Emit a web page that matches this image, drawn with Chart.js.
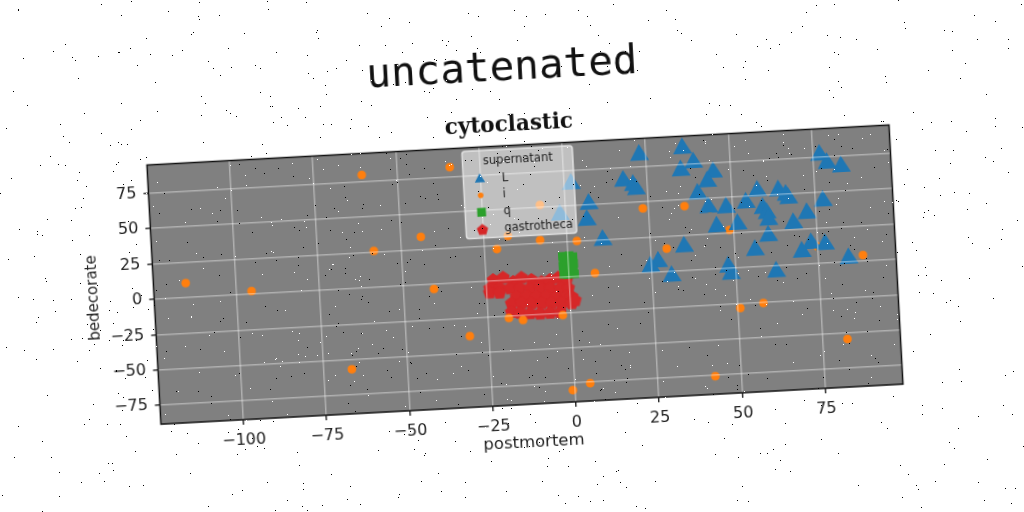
<!DOCTYPE html>
<html>
<head>
<meta charset="utf-8">
<style>
  html, body { margin: 0; padding: 0; background: #fff; overflow: hidden; }
  #stage { position: relative; width: 1024px; height: 512px; overflow: hidden; }
  #chart { position: absolute; left: 0; top: 0; transform: rotate(-3.09deg); transform-origin: 512px 256px; }
  #specks { position: absolute; left: 0; top: 0; pointer-events: none; }
</style>
</head>
<body>
<div id="stage">
  <canvas id="chart" width="1024" height="512"></canvas>
  <canvas id="specks" width="1024" height="512"></canvas>
</div>
<script src="https://cdn.jsdelivr.net/npm/chart.js@4/dist/chart.umd.min.js"></script>
<script>
const figTitle = 'uncatenated';
const axTitle = 'cytoclastic';
const xName = 'postmortem';
const yName = 'bedecorate';
const legendName = 'supernatant';
const seriesNames = ['L', 'i', 'q', 'gastrotheca'];

const xLimits = [-124.7, 98.3];
const yLimits = [-88.3, 95];
const tickStep = 25;

const lX = [23, 36, 39.1, 35.2, 44.9, 43, 17.8, 20.7, 21.5, 39.9, 57.8, 64.1, 66.3, 67, 77.3, 42.9, 48.2, 54.2, 59.2, 60.3, 60.7, 45.1, 51.4, 68.1, 72.3, 60.4, 56.2, 73.1, 70.2, 77.3, 84.1, 35, 27, 24.6, 30.8, 47.9, 48.6, 62.2, 77, 79.1, 83.3, 10.7, 7.1, 6.3, 2.1, -1.7];
const lY = [83.4, 86.4, 75.9, 70.8, 68.3, 61.9, 65.7, 62.4, 59.3, 53.7, 53.5, 52.9, 49.6, 47.2, 43.9, 43.8, 42.9, 45.6, 41.1, 37.4, 32.6, 29.9, 30.7, 29.3, 35.9, 21.3, 11.9, 14.5, 8.9, 13.3, 2.5, 17, 7.3, 4.1, -3.3, 1.1, -4.1, -4.2, 76.5, 70.4, 67.5, 24.8, 50.6, 39.4, 65.5, 44.1];

const iX = [-115, -95.4, -60.5, -34, -43.8, -58.1, -40.7, -30.7, -66.6, -21.2, -17.7, -8.1, 2.9, 7.8, -18.7, -14.5, -2.5, -0.7, 4.6, 42.2, 50.8, 57.8, 82.4, 88.4, 74.8, 48.8, 43.2, 35.7, 23.2, 29.7, -7.6];
const iY = [10.3, 2.1, 79.8, 82, 33.9, 25.7, -3.4, -38, -56.8, 22.5, 31.2, 27.1, 25, 1.7, -26.7, -28.7, -26.7, -80, -75.7, -75.5, -28.5, -25.7, -54.4, 4.3, 12.2, 27, 42.8, 45.6, 45.5, 16.3, 51.9];

const qX = [-1.7, -0.8, 0.4, 1.5, -1.5, -0.3, 1, 1.6, -1.7, -0.6, 0.5, -1.4, 0.2, 1.4, -1.6, -0.5, 0.9, 1.7];
const qY = [14.8, 13.6, 15, 14.2, 11.4, 10.5, 11.8, 9.2, 8, 7.2, 8.3, 4.6, 5, 5.6, 2, 1.8, 2.4, 2];

const gX = [-22.8, -19.8, -16.8, -14.3, -11.3, -8.3, -5.8, -3.3, -0.8, -23.9, -20.9, -17.9, -14.9, -11.9, -8.9, -5.9, -2.9, -0.4, -24.1, -21.1, -16.1, -13.1, -10.1, -7.1, -4.1, -1.1, 0.5, -17.7, -14.7, -11.7, -8.7, -5.7, -2.7, 0.3, 1.4, -17.8, -15.3, -12.3, -9.3, -6.3, -3.3];
const gY = [0.7, 1.9, -1.4, 1.2, -0.7, -2.6, -1.4, -0.1, -2, -5, -5.4, -5.8, -6.1, -6.5, -6.9, -7.3, -7.6, -8, -8.1, -8.5, -12, -12.3, -12.7, -13.1, -13.5, -13.9, -14.1, -16.5, -16.8, -17.2, -17.6, -17.9, -18.3, -18.7, -16.8, -22.6, -23.4, -24.2, -24.8, -24.6, -24.6];

const BLUE = '#1f77b4', ORANGE = '#ff7f0e', GREEN = '#2ca02c', RED = '#d62728';
const pairs = (xs, ys) => xs.map((x, i) => ({ x, y: ys[i] }));

// chart.js has no pentagon so the red marker is a small canvas
function pentagon(r, color) {
  const c = document.createElement('canvas');
  c.width = c.height = Math.ceil(r * 2 + 2);
  const g = c.getContext('2d');
  g.fillStyle = color;
  g.beginPath();
  for (let k = 0; k < 5; k++) {
    const a = -Math.PI / 2 + k * 2 * Math.PI / 5;
    g.lineTo(c.width / 2 + r * Math.cos(a), c.height / 2 + r * Math.sin(a));
  }
  g.closePath();
  g.fill();
  return c;
}

const plotBack = {
  id: 'plotBack',
  beforeDraw(chart) {
    const a = chart.chartArea, ctx = chart.ctx;
    ctx.save();
    ctx.fillStyle = '#808080';
    ctx.fillRect(a.left, a.top, a.right - a.left, a.bottom - a.top);
    ctx.restore();
  }
};

// the axes title sits a little right of the figure centre
const nudgeSubtitle = {
  id: 'nudgeSubtitle',
  afterLayout(chart) {
    const box = chart.boxes.find(b => b.options && b.options.text === axTitle);
    if (box) { box.left += 4; box.right += 4; }
  }
};

const frameAndLegend = {
  id: 'frameAndLegend',
  afterDraw(chart) {
    const a = chart.chartArea, ctx = chart.ctx;
    ctx.save();
    ctx.strokeStyle = '#111';
    ctx.lineWidth = 1.5;
    ctx.strokeRect(a.left, a.top, a.right - a.left, a.bottom - a.top);

    // legend box inside the axes
    ctx.beginPath();
    ctx.roundRect(467.5, 149, 110.5, 87.5, 3);
    ctx.fillStyle = 'rgba(255,255,255,0.5)';
    ctx.fill();
    ctx.strokeStyle = 'rgba(235,235,235,0.85)';
    ctx.lineWidth = 1.5;
    ctx.stroke();

    ctx.fillStyle = '#222';
    ctx.textBaseline = 'middle';
    ctx.font = '11.5px "DejaVu Sans"';
    ctx.textAlign = 'center';
    ctx.fillText(legendName, 523, 160.5);
    ctx.textAlign = 'left';
    const rows = [177.7, 193.7, 210.7, 228.4];
    const looks = [
      { pointStyle: 'triangle', radius: 6, color: BLUE },
      { pointStyle: 'circle', radius: 2.8, color: ORANGE },
      { pointStyle: 'rect', radius: 6.2, color: GREEN },
      { pointStyle: pentagon(6, RED), radius: 6, color: RED }
    ];
    seriesNames.forEach((name, i) => {
      ctx.fillStyle = looks[i].color;
      ctx.strokeStyle = looks[i].color;
      ctx.lineWidth = 0.5;
      Chart.helpers.drawPoint(ctx, { pointStyle: looks[i].pointStyle, radius: looks[i].radius, rotation: 0 }, 484, rows[i]);
      ctx.fillStyle = '#222';
      ctx.fillText(name, 506, rows[i]);
    });
    ctx.restore();
  }
};

const gridLook = { color: 'rgba(255,255,255,0.38)', lineWidth: 1.5, z: 1, tickColor: '#111', tickLength: 5, tickWidth: 1.3 };
const tickFont = { family: 'DejaVu Sans', size: 16 };
const minusLabel = v => String(v).replace('-', '\u2212');

new Chart(document.getElementById('chart'), {
  type: 'scatter',
  data: {
    datasets: [
      { label: seriesNames[0], data: pairs(lX, lY), pointStyle: 'triangle', pointRadius: 11, backgroundColor: BLUE, borderColor: BLUE, borderWidth: 0 },
      { label: seriesNames[1], data: pairs(iX, iY), pointStyle: 'circle', pointRadius: 4, backgroundColor: ORANGE, borderColor: 'rgba(255,127,14,0.4)', borderWidth: 1.5 },
      { label: seriesNames[2], data: pairs(qX, qY), pointStyle: 'rect', pointRadius: 6, backgroundColor: GREEN, borderColor: GREEN, borderWidth: 0 },
      { label: seriesNames[3], data: pairs(gX, gY), pointStyle: pentagon(7, RED), pointRadius: 7, backgroundColor: RED, borderColor: RED, borderWidth: 0 }
    ]
  },
  options: {
    responsive: false,
    animation: false,
    devicePixelRatio: 1,
    layout: { padding: { top: 45, bottom: 58, left: 0, right: 0 } },
    plugins: {
      legend: { display: false },
      tooltip: { enabled: false },
      title: { display: true, text: figTitle, color: '#111', font: { family: 'DejaVu Sans Mono', size: 41, weight: 'normal' }, padding: { top: 0, bottom: 17.9 } },
      subtitle: { display: true, text: axTitle, color: '#111', font: { family: 'DejaVu Serif', size: 21.5, weight: 'bold' }, padding: { top: 0, bottom: 7.6 } }
    },
    scales: {
      x: {
        type: 'linear', min: xLimits[0], max: xLimits[1],
        afterFit: s => { s.height = 49; },
        grid: gridLook,
        border: { display: false },
        title: { display: true, text: xName, color: '#222', font: { family: 'DejaVu Sans', size: 16.5 }, padding: 0 },
        ticks: { stepSize: tickStep, includeBounds: false, maxRotation: 0, color: '#222', padding: 6, font: tickFont, callback: minusLabel }
      },
      y: {
        type: 'linear', min: yLimits[0], max: yLimits[1],
        afterFit: s => { s.width = 152.4; },
        grid: gridLook,
        border: { display: false },
        title: { display: true, text: yName, color: '#222', font: { family: 'DejaVu Sans', size: 15 }, padding: { top: 83, bottom: 0 } },
        ticks: { stepSize: tickStep, includeBounds: false, color: '#222', padding: 7, font: tickFont, callback: minusLabel }
      },
      // empty axis, only holds the space on the right of the plot
      spacer: {
        type: 'linear', position: 'right', display: true,
        afterFit: s => { s.width = 128.5; },
        grid: { display: false },
        border: { display: false },
        ticks: { display: false }
      }
    }
  },
  plugins: [plotBack, nudgeSubtitle, frameAndLegend]
});

// speckle over the whole picture, fixed seed so it stays the same
function drawSpecks() {
  const g = document.getElementById('specks').getContext('2d');
  let s = 20231;
  const next = () => (s = (s * 1664525 + 1013904223) >>> 0) / 4294967296;
  for (let k = 0; k < 1700; k++) {
    g.fillStyle = next() < 0.5 ? '#000' : '#fff';
    g.fillRect(Math.floor(next() * 1024), Math.floor(next() * 512), 1, 1);
  }
}
drawSpecks();
</script>
</body>
</html>
